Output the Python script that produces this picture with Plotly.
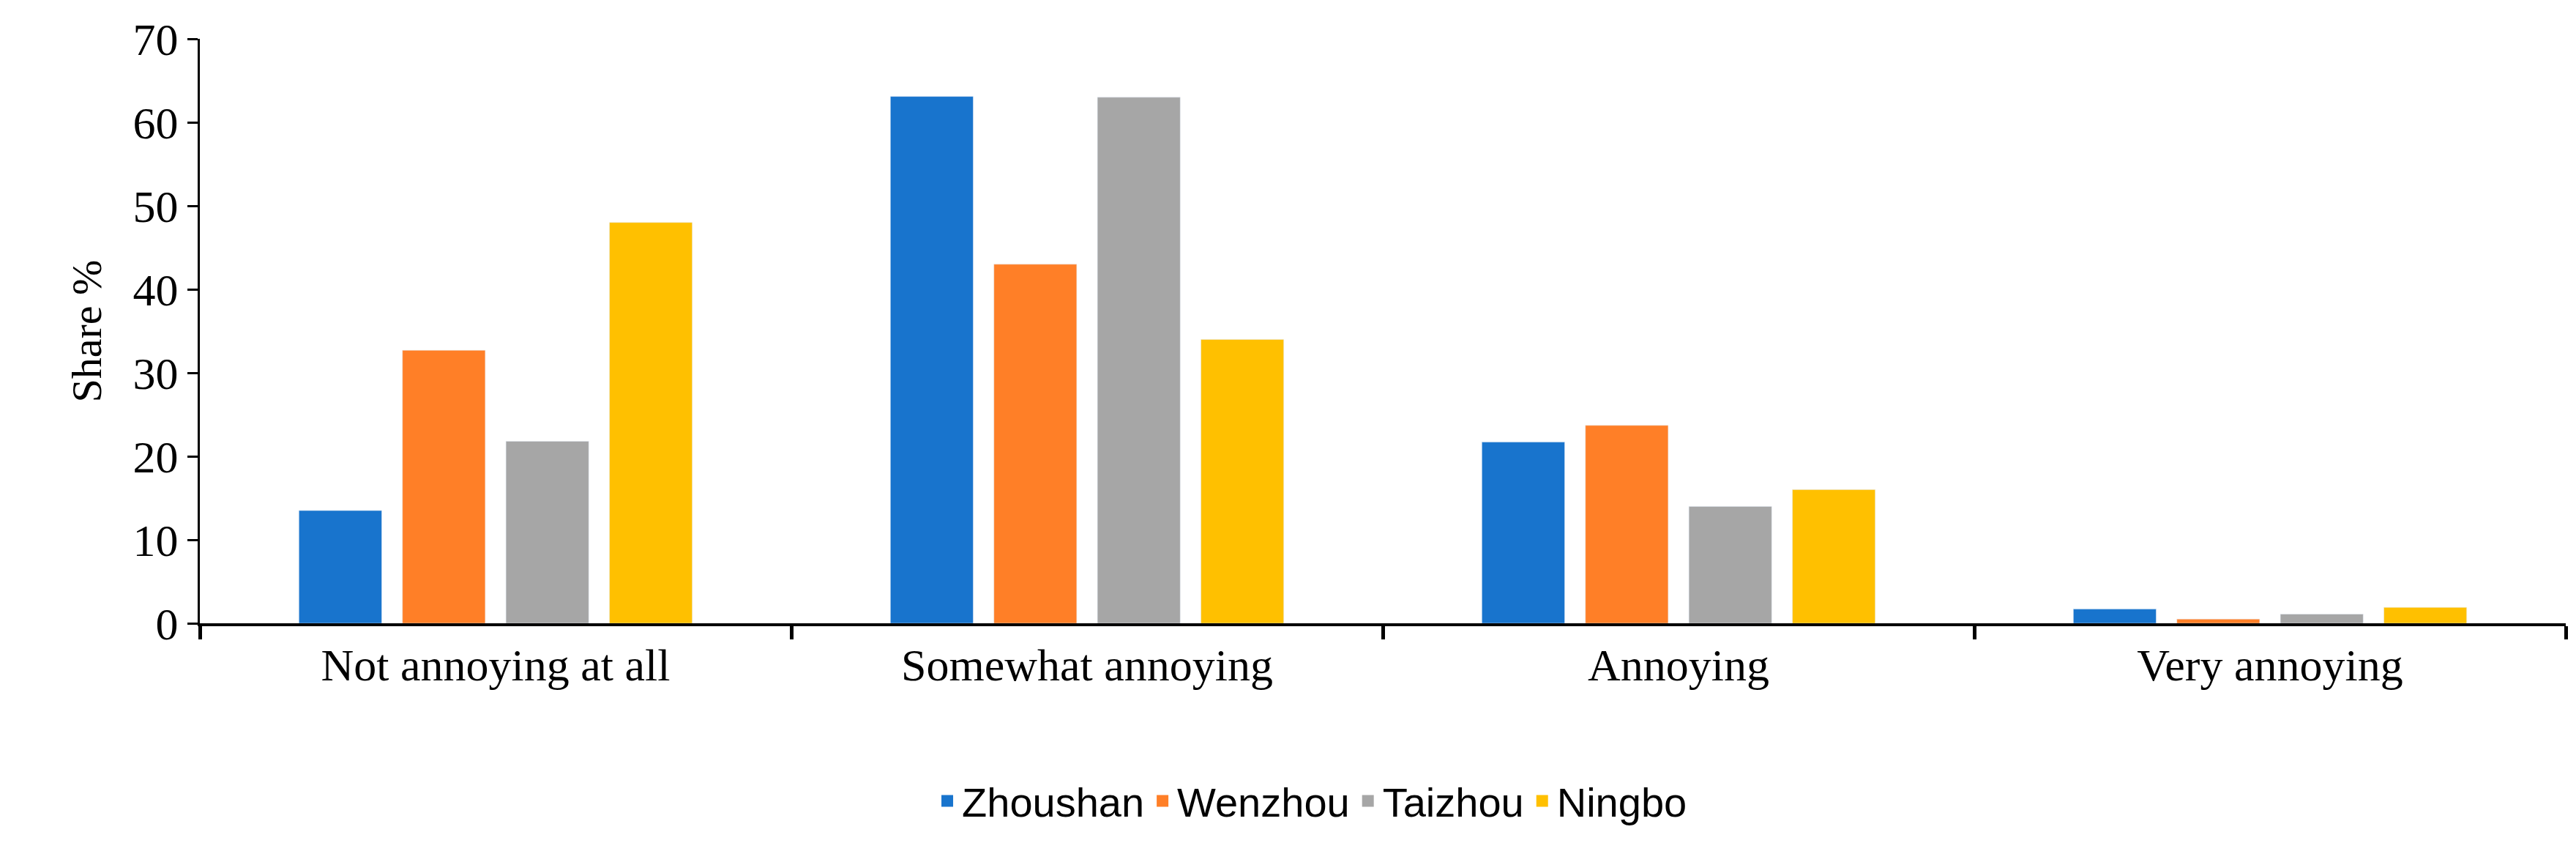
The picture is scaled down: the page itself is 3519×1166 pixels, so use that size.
import plotly.graph_objects as go

categories = ["Not annoying at all", "Somewhat annoying", "Annoying", "Very annoying"]
zhoushan = [13.5, 63.1, 21.7, 1.7]
wenzhou = [32.7, 43.0, 23.7, 0.5]
taizhou = [21.8, 63.0, 14.0, 1.1]
ningbo = [48.0, 34.0, 16.0, 1.9]

series = [("Zhoushan", zhoushan, "#1874CD"), ("Wenzhou", wenzhou, "#FF7F27"),
          ("Taizhou", taizhou, "#A6A6A6"), ("Ningbo", ningbo, "#FFC000")]

fig = go.Figure()
for name, vals, col in series:
    fig.add_bar(x=categories, y=vals, name=name, marker_color=col, showlegend=False)
for name, vals, col in series:
    fig.add_scatter(x=[None], y=[None], mode="markers", name=name,
                    marker=dict(symbol="square", size=42, color=col))

serif = "Liberation Serif, DejaVu Serif, serif"
fig.update_layout(
    width=3519, height=1166, plot_bgcolor="white", paper_bgcolor="white",
    margin=dict(l=265, r=22, t=45, b=323),
    barmode="group", bargap=0.3, bargroupgap=0.2,
    font=dict(family=serif, size=62, color="black"),
    legend=dict(orientation="h", x=0.47, xanchor="center", y=-0.25, yanchor="top",
                font=dict(family="Liberation Sans, Arial, sans-serif", size=56),
                traceorder="normal"),
)
fig.update_xaxes(showline=True, linecolor="black", linewidth=4, tickson="boundaries",
                 ticks="outside", ticklen=18, tickwidth=5, tickcolor="black",
                 tickfont=dict(size=62, family=serif))
fig.update_yaxes(range=[0, 70], dtick=10, showline=True, linecolor="black", linewidth=3,
                 ticks="outside", ticklen=14, tickwidth=3, tickcolor="black",
                 showgrid=False, zeroline=False,
                 title=dict(text="Share %", font=dict(size=58, family=serif), standoff=25),
                 tickfont=dict(size=62, family=serif))
fig.write_html("out.html")
